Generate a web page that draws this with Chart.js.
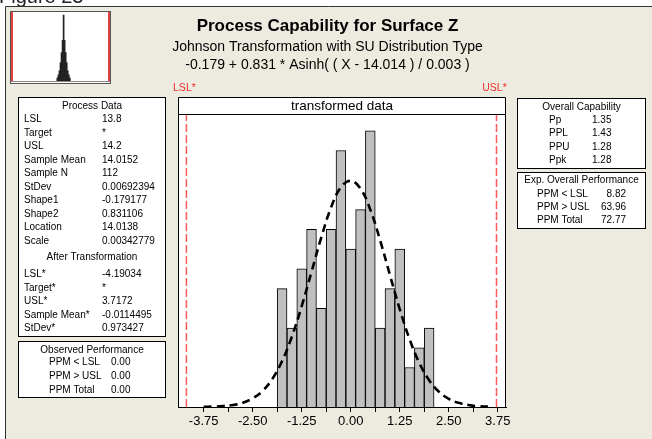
<!DOCTYPE html>
<html>
<head>
<meta charset="utf-8">
<script src="https://cdn.jsdelivr.net/npm/chart.js@4/dist/chart.umd.min.js"></script>
<style>
  html, body { margin: 0; padding: 0; background: #fff; overflow: hidden; }
  #wrap { position: relative; width: 652px; height: 439px; }
  #main { position: absolute; left: 0; top: 0; }
  #thumb { position: absolute; left: 11px; top: 12px; }
</style>
</head>
<body>
<div id="wrap">
  <canvas id="main" width="652" height="439"></canvas>
  <canvas id="thumb" width="99" height="70"></canvas>
</div>
<script>
// histogram of transformed data (bin midpoints, counts)
var binMids = [-1.75, -1.5, -1.25, -1.0, -0.75, -0.5, -0.25, 0.0, 0.25, 0.5, 0.75, 1.0, 1.25, 1.5, 1.75, 2.0];
var binCounts = [6, 4, 7, 9, 5, 9, 13, 8, 10, 14, 4, 6, 8, 2, 3, 4];

// fitted normal curve (same count scale as the bars)
var curveX = [-3.75, -3.5, -3.25, -3.0, -2.75, -2.5, -2.25, -2.0, -1.75, -1.5, -1.25, -1.0, -0.75, -0.5, -0.25, 0.0,
              0.25, 0.5, 0.75, 1.0, 1.25, 1.5, 1.75, 2.0, 2.25, 2.5, 2.75, 3.0, 3.25, 3.5];
var curveY = [0.01, 0.02, 0.05, 0.10, 0.22, 0.44, 0.81, 1.42, 2.33, 3.57, 5.11, 6.85, 8.60, 10.12, 11.14, 11.47,
              11.07, 10.00, 8.45, 6.69, 4.96, 3.44, 2.23, 1.36, 0.77, 0.41, 0.21, 0.10, 0.04, 0.02];

var lslStar = -4.19034;
var uslStar = 3.7172;

var tickValues = [-3.75, -2.5, -1.25, 0, 1.25, 2.5, 3.75];
var tickLabels = ['-3.75', '-2.50', '-1.25', '0.00', '1.25', '2.50', '3.75'];

// thumbnail: original data
var thumbX = [13.987, 13.9913, 13.9956, 13.9999, 14.0042, 14.0085, 14.0128, 14.0171, 14.0214, 14.0257, 14.03, 14.0343, 14.0386];
var thumbCounts = [3, 6, 10, 18, 28, 40, 65, 40, 28, 18, 10, 6, 3];
var lsl = 13.8, usl = 14.2;

// text panels
var processLabels = ['LSL', 'Target', 'USL', 'Sample Mean', 'Sample N', 'StDev', 'Shape1', 'Shape2', 'Location', 'Scale'];
var processValues = ['13.8', '*', '14.2', '14.0152', '112', '0.00692394', '-0.179177', '0.831106', '14.0138', '0.00342779'];
var afterLabels = ['LSL*', 'Target*', 'USL*', 'Sample Mean*', 'StDev*'];
var afterValues = ['-4.19034', '*', '3.7172', '-0.0114495', '0.973427'];
var obsLabels = ['PPM < LSL', 'PPM > USL', 'PPM Total'];
var obsValues = ['0.00', '0.00', '0.00'];
var capLabels = ['Pp', 'PPL', 'PPU', 'Ppk'];
var capValues = ['1.35', '1.43', '1.28', '1.28'];
var expLabels = ['PPM < LSL', 'PPM > USL', 'PPM Total'];
var expValues = ['8.82', '63.96', '72.77'];

var FONT = '"Liberation Sans", Arial, sans-serif';
var BEIGE = '#EDEAE0';
Chart.defaults.font.family = FONT;

function box(ctx, x1, y1, x2, y2, stroke) {
  ctx.fillStyle = '#fff';
  ctx.fillRect(x1, y1, x2 - x1, y2 - y1);
  ctx.strokeStyle = stroke || '#000';
  ctx.lineWidth = 1;
  ctx.strokeRect(x1 + 0.5, y1 + 0.5, x2 - x1 - 1, y2 - y1 - 1);
}

function txt(ctx, s, x, y, size, align, color, bold) {
  ctx.font = (bold ? 'bold ' : '') + size + 'px ' + FONT;
  ctx.textAlign = align || 'left';
  ctx.textBaseline = 'middle';
  ctx.fillStyle = color || '#000';
  ctx.fillText(s, x, y);
}

var panelPlugin = {
  id: 'panels',
  beforeDraw: function (chart) {
    var ctx = chart.ctx;
    var a = chart.chartArea;
    ctx.save();
    ctx.fillStyle = '#fff';
    ctx.fillRect(0, 0, 652, 439);
    txt(ctx, 'Figure 23', -1, -3, 20, 'left', '#222');
    ctx.fillStyle = BEIGE;
    ctx.fillRect(5, 6, 647, 433);
    ctx.strokeStyle = '#333';
    ctx.lineWidth = 1;
    ctx.beginPath();
    ctx.moveTo(5.5, 439); ctx.lineTo(5.5, 6.5); ctx.lineTo(652, 6.5);
    ctx.stroke();

    // thumbnail frame
    box(ctx, 10, 11, 111, 84, '#555');

    // titles
    txt(ctx, 'Process Capability for Surface Z', 327.5, 26, 17, 'center', '#000', true);
    txt(ctx, 'Johnson Transformation with SU Distribution Type', 327.5, 47, 14, 'center');
    txt(ctx, '-0.179 + 0.831 * Asinh( ( X - 14.014 ) / 0.003 )', 327.5, 65, 14, 'center');

    // plot frame + header
    ctx.fillStyle = '#fff';
    ctx.fillRect(a.left, 97, a.right - a.left, a.bottom - 97);
    txt(ctx, 'transformed data', (a.left + a.right) / 2, 106, 13.5, 'center');

    var xs = chart.scales.x;
    txt(ctx, 'LSL*', xs.getPixelForValue(lslStar) - 2, 88.5, 10.5, 'center', '#F03030');
    txt(ctx, 'USL*', xs.getPixelForValue(uslStar) - 2, 88.5, 10.5, 'center', '#F03030');

    // process data
    box(ctx, 18, 97, 166, 337);
    txt(ctx, 'Process Data', 92, 106, 10, 'center');
    processLabels.forEach(function (l, i) {
      txt(ctx, l, 24, 119.5 + i * 13.5, 10);
      txt(ctx, processValues[i], 102, 119.5 + i * 13.5, 10);
    });
    txt(ctx, 'After Transformation', 92, 257.5, 10, 'center');
    afterLabels.forEach(function (l, i) {
      txt(ctx, l, 24, 274.5 + i * 13.5, 10);
      txt(ctx, afterValues[i], 102, 274.5 + i * 13.5, 10);
    });

    // observed performance
    box(ctx, 18, 341, 166, 398);
    txt(ctx, 'Observed Performance', 92, 350, 10, 'center');
    obsLabels.forEach(function (l, i) {
      txt(ctx, l, 49, 362 + i * 14, 10);
      txt(ctx, obsValues[i], 111, 362 + i * 14, 10);
    });

    // overall capability
    box(ctx, 517, 98, 646, 169);
    txt(ctx, 'Overall Capability', 581.5, 107, 10, 'center');
    capLabels.forEach(function (l, i) {
      txt(ctx, l, 549, 120 + i * 13.4, 10);
      txt(ctx, capValues[i], 592, 120 + i * 13.4, 10);
    });

    // expected overall performance
    box(ctx, 517, 172, 646, 229);
    txt(ctx, 'Exp. Overall Performance', 581.5, 180.5, 10, 'center');
    expLabels.forEach(function (l, i) {
      txt(ctx, l, 537, 194 + i * 13.2, 10);
      txt(ctx, expValues[i], 626, 194 + i * 13.2, 10, 'right');
    });
    ctx.restore();
  },
  afterDraw: function (chart) {
    var ctx = chart.ctx;
    var a = chart.chartArea;
    ctx.save();
    ctx.strokeStyle = '#000';
    ctx.lineWidth = 1;
    ctx.beginPath();
    ctx.moveTo(a.left + 0.5, a.bottom);
    ctx.lineTo(a.left + 0.5, 97.5);
    ctx.lineTo(a.right - 0.5, 97.5);
    ctx.lineTo(a.right - 0.5, a.bottom);
    ctx.moveTo(a.left, 114.5);
    ctx.lineTo(a.right, 114.5);
    ctx.stroke();
    ctx.restore();
  }
};

var yMax = 14.85;

new Chart(document.getElementById('main').getContext('2d'), {
  type: 'bar',
  data: {
    datasets: [
      {
        type: 'line',
        data: curveX.map(function (x, i) { return { x: x, y: curveY[i] }; }),
        borderColor: '#000',
        borderWidth: 2.6,
        borderDash: [8, 5],
        pointRadius: 0,
        tension: 0.4,
        fill: false,
        order: 1
      },
      {
        type: 'line',
        data: [{ x: lslStar, y: 0 }, { x: lslStar, y: yMax }],
        borderColor: '#FF5A5A',
        borderWidth: 1.5,
        borderDash: [8, 3],
        pointRadius: 0,
        order: 2
      },
      {
        type: 'line',
        data: [{ x: uslStar, y: 0 }, { x: uslStar, y: yMax }],
        borderColor: '#FF5A5A',
        borderWidth: 1.5,
        borderDash: [8, 3],
        pointRadius: 0,
        order: 2
      },
      {
        type: 'bar',
        data: binMids.map(function (x, i) { return { x: x, y: binCounts[i] }; }),
        backgroundColor: '#C0C0C0',
        borderColor: '#000',
        borderWidth: 1,
        barPercentage: 1,
        categoryPercentage: 1,
        order: 3
      }
    ]
  },
  options: {
    responsive: false,
    animation: false,
    devicePixelRatio: 1,
    layout: { padding: { left: 178, right: 146, top: 114, bottom: 0 } },
    plugins: { legend: { display: false }, tooltip: { enabled: false } },
    scales: {
      x: {
        type: 'linear',
        min: -4.405,
        max: 3.96,
        offset: false,
        afterBuildTicks: function (scale) {
          var t = [];
          for (var i = 0; i < tickValues.length; i++) {
            t.push({ value: tickValues[i] });
            if (i < tickValues.length - 1) t.push({ value: (tickValues[i] + tickValues[i + 1]) / 2 });
          }
          scale.ticks = t;
        },
        afterFit: function (scale) { scale.height = 32; },
        ticks: {
          autoSkip: false,
          maxRotation: 0,
          color: '#000',
          font: { size: 13 },
          padding: 2,
          callback: function (v) {
            for (var i = 0; i < tickValues.length; i++) {
              if (Math.abs(tickValues[i] - v) < 1e-6) return tickLabels[i];
            }
            return '';
          }
        },
        grid: { drawOnChartArea: false, drawTicks: true, tickLength: 5, color: '#000', offset: false },
        border: { display: true, color: '#000', width: 1 }
      },
      y: {
        display: false,
        min: 0,
        max: yMax
      }
    }
  },
  plugins: [panelPlugin]
});

// thumbnail of the original data
new Chart(document.getElementById('thumb').getContext('2d'), {
  type: 'bar',
  data: {
    datasets: [
      {
        type: 'line',
        data: [{ x: lsl, y: 0 }, { x: lsl, y: 80 }],
        borderColor: '#E00000',
        borderWidth: 1.5,
        pointRadius: 0,
        order: 1
      },
      {
        type: 'line',
        data: [{ x: usl, y: 0 }, { x: usl, y: 80 }],
        borderColor: '#E00000',
        borderWidth: 1.5,
        pointRadius: 0,
        order: 1
      },
      {
        type: 'bar',
        data: thumbX.map(function (x, i) { return { x: x, y: thumbCounts[i] }; }),
        backgroundColor: '#222',
        borderWidth: 0,
        barPercentage: 1,
        categoryPercentage: 1,
        order: 2
      }
    ]
  },
  options: {
    responsive: false,
    animation: false,
    devicePixelRatio: 1,
    layout: { padding: 0 },
    plugins: { legend: { display: false }, tooltip: { enabled: false } },
    scales: {
      x: {
        type: 'linear',
        min: 13.7959,
        max: 14.2041,
        offset: false,
        afterFit: function (scale) { scale.height = 1; },
        ticks: { display: false },
        grid: { display: false },
        border: { display: true, color: '#888' }
      },
      y: { display: false, min: 0, max: 68 }
    }
  }
});
</script>
</body>
</html>
